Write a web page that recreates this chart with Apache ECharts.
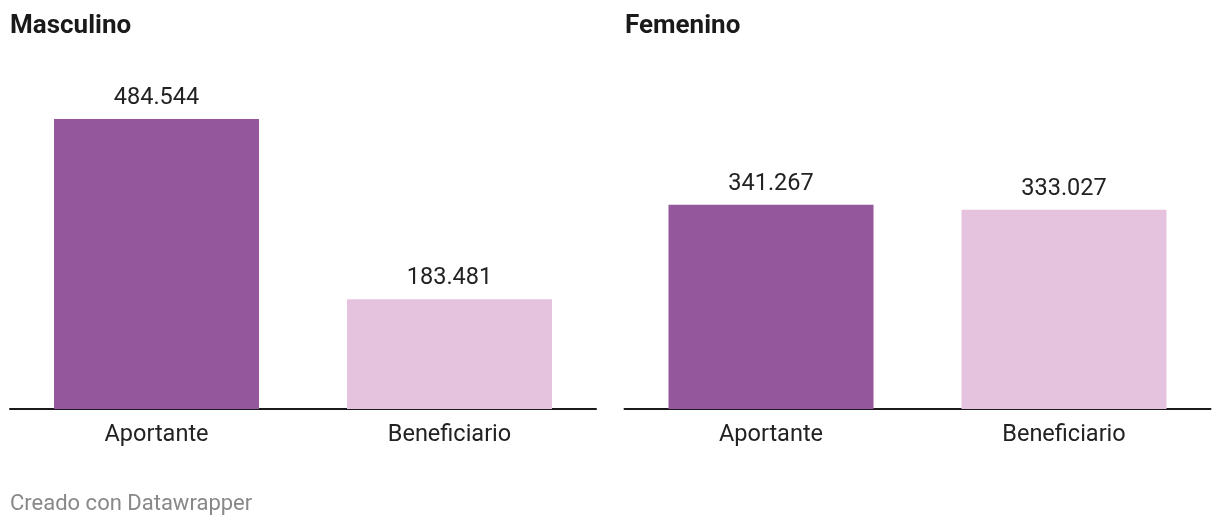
<!DOCTYPE html>
<html>
<head>
<meta charset="utf-8">
<script src="https://cdn.jsdelivr.net/npm/echarts@6/dist/echarts.min.js"></script>
<style>
html,body{margin:0;padding:0;background:#fff;}
#c{width:1220px;height:526px;}
</style>
</head>
<body>
<div id="c"></div>
<script>
const categories = ['Aportante', 'Beneficiario'];
const panelTitles = ['Masculino', 'Femenino'];
const masculino = [484544, 183481];
const femenino = [341267, 333027];
const barColors = ['#94579c', '#e5c3df'];

function fmt(v){ return String(v).replace(/\B(?=(\d{3})+(?!\d))/g, '.'); }

const chart = echarts.init(document.getElementById('c'));
const font = 'Roboto, "Noto Sans", sans-serif';
const maxV = 484544;
const grids = [
  {left: 10, width: 586, top: 119, height: 290},
  {left: 624.5, width: 586, top: 119, height: 290}
];
function xAx(i){
  return {type:'category', gridIndex:i, data:categories,
    axisLine:{show:true, lineStyle:{color:'#1a1a1a', width:2}},
    axisTick:{show:false},
    axisLabel:{color:'#222', fontSize:23.5, fontFamily:font, margin:14}};
}
function yAx(i){
  return {type:'value', gridIndex:i, min:0, max:maxV, show:false, splitLine:{show:false}};
}
function ser(i, data){
  return {type:'bar', xAxisIndex:i, yAxisIndex:i, barWidth:205,
    data: data.map((v,k)=>({value:v, itemStyle:{color:barColors[k]}})),
    label:{show:true, position:'top', distance:9, color:'#222', fontSize:23.5, fontFamily:font,
      formatter: p => fmt(p.value)}};
}
chart.setOption({
  animation:false,
  title:[
    {text:panelTitles[0], left:5, top:8, textStyle:{fontSize:26, fontWeight:'bold', color:'#1a1a1a', fontFamily:font}},
    {text:panelTitles[1], left:620, top:8, textStyle:{fontSize:26, fontWeight:'bold', color:'#1a1a1a', fontFamily:font}},
    {text:'Creado con Datawrapper', left:5, top:488, textStyle:{fontSize:22, fontWeight:'normal', color:'#888', fontFamily:font}}
  ],
  grid: grids,
  xAxis:[xAx(0), xAx(1)],
  yAxis:[yAx(0), yAx(1)],
  series:[ser(0, masculino), ser(1, femenino)]
});
</script>
</body>
</html>
